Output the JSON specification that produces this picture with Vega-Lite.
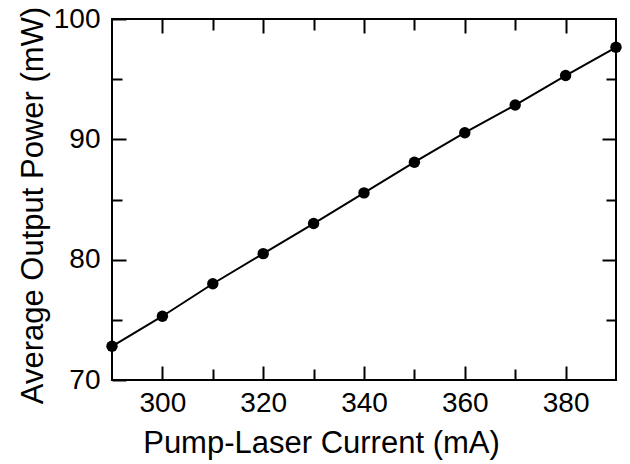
{
  "$schema": "https://vega.github.io/schema/vega-lite/v6.json",
  "width": 504,
  "height": 361,
  "autosize": "none",
  "padding": {"left": 112, "top": 19, "right": 14, "bottom": 84},
  "background": "white",
  "config": {
    "view": {"stroke": "black", "strokeWidth": 2},
    "axis": {
      "domain": false,
      "grid": false,
      "labelFont": "Liberation Sans",
      "titleFont": "Liberation Sans",
      "labelColor": "black",
      "titleColor": "black",
      "tickColor": "black",
      "tickWidth": 2,
      "labelFontSize": 28,
      "titleFontSize": 31,
      "titleFontWeight": "normal",
      "labelFlush": false,
      "labelOverlap": false
    }
  },
  "data": {
    "values": [
      {"current": 290, "power": 72.8},
      {"current": 300, "power": 75.3},
      {"current": 310, "power": 78.0},
      {"current": 320, "power": 80.5},
      {"current": 330, "power": 83.0},
      {"current": 340, "power": 85.55},
      {"current": 350, "power": 88.1},
      {"current": 360, "power": 90.55},
      {"current": 370, "power": 92.85},
      {"current": 380, "power": 95.3},
      {"current": 390, "power": 97.65}
    ]
  },
  "layer": [
    {
      "mark": {"type": "line", "color": "black", "strokeWidth": 2},
      "encoding": {
        "x": {
          "field": "current",
          "type": "quantitative",
          "scale": {"domain": [290, 390], "nice": false, "zero": false},
          "axis": {
            "orient": "bottom",
            "values": [300, 310, 320, 330, 340, 350, 360, 370, 380],
            "labelExpr": "datum.value % 20 === 0 ? datum.label : ''",
            "tickSize": {"condition": {"test": "datum.value % 20 === 0", "value": -14}, "value": -11},
            "labelPadding": 23,
            "title": "Pump-Laser Current (mA)",
            "titleX": 209,
            "titlePadding": 8
          }
        },
        "y": {
          "field": "power",
          "type": "quantitative",
          "scale": {"domain": [70, 100], "nice": false, "zero": false},
          "axis": {
            "orient": "left",
            "values": [70, 75, 80, 85, 90, 95, 100],
            "labelExpr": "datum.value % 10 === 0 ? datum.label : ''",
            "tickSize": {"condition": {"test": "datum.value % 10 === 0", "value": -14}, "value": -10},
            "labelPadding": 26,
            "title": "Average Output Power (mW)",
            "titleY": 186,
            "titlePadding": 4
          }
        }
      }
    },
    {
      "mark": {"type": "point", "filled": true, "color": "black", "size": 130, "opacity": 1},
      "encoding": {
        "x": {
          "field": "current",
          "type": "quantitative",
          "axis": {
            "orient": "top",
            "values": [300, 310, 320, 330, 340, 350, 360, 370, 380],
            "labels": false,
            "title": null,
            "tickSize": {"condition": {"test": "datum.value % 20 === 0", "value": -14}, "value": -11}
          }
        },
        "y": {
          "field": "power",
          "type": "quantitative",
          "axis": {
            "orient": "right",
            "values": [75, 80, 85, 90, 95],
            "labels": false,
            "title": null,
            "tickSize": {"condition": {"test": "datum.value % 10 === 0", "value": -14}, "value": -10}
          }
        }
      }
    }
  ],
  "resolve": {"axis": {"x": "independent", "y": "independent"}}
}
